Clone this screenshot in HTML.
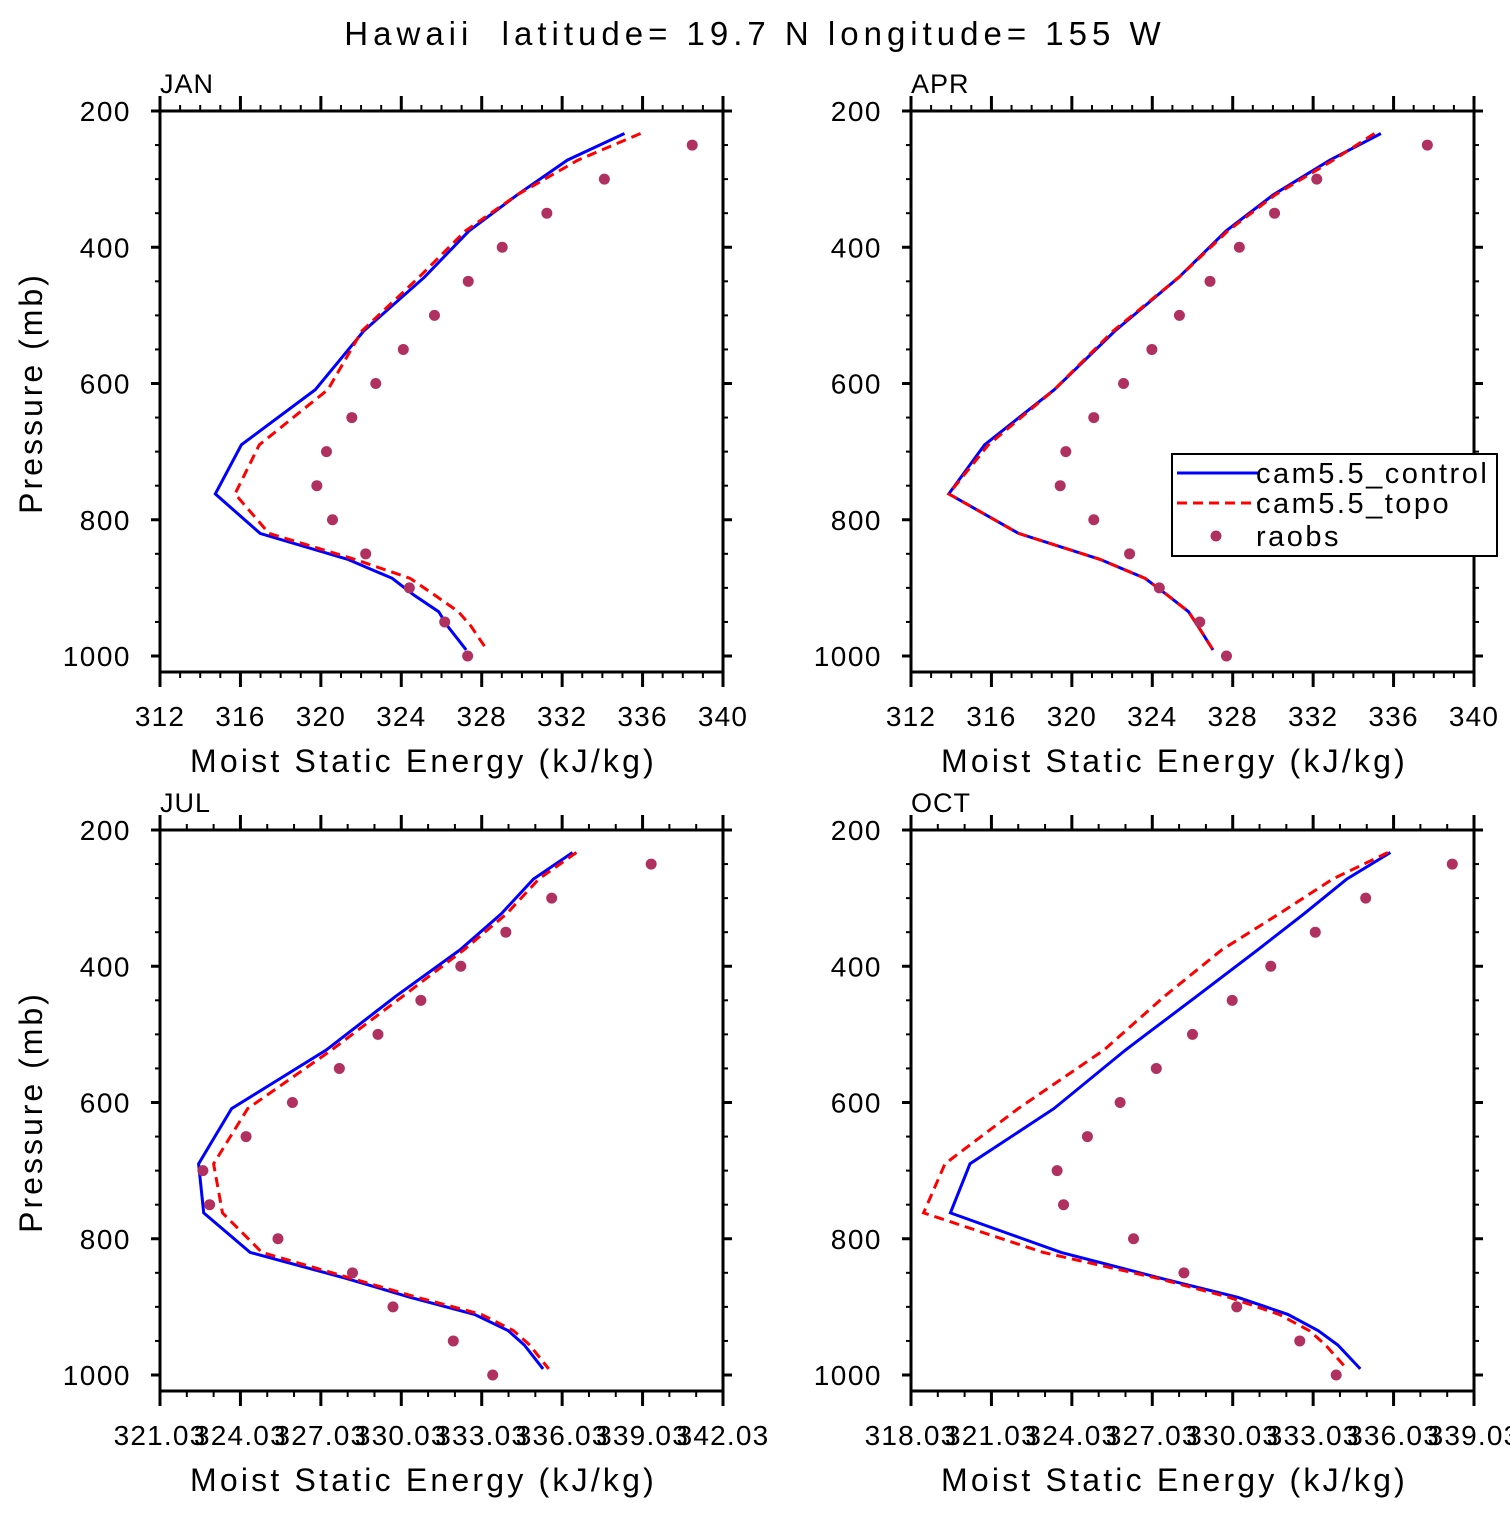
<!DOCTYPE html>
<html><head><meta charset="utf-8"><style>
body{margin:0;background:#fff}
svg text{font-family:"Liberation Sans",sans-serif;fill:#000}
</style></head><body>
<svg id="c" width="1510" height="1510" xmlns="http://www.w3.org/2000/svg">
<text x="755" y="45" font-size="33" text-anchor="middle" letter-spacing="5" xml:space="preserve">Hawaii  latitude= 19.7 N longitude= 155 W</text>
</svg>
<script>
const levels=[233,272,323,376,444,523,609,690,762,820,858,886,911,935,956,991];
const obsLevels=[250,300,350,400,450,500,550,600,650,700,750,800,850,900,950,1000];
const panelNames=["JAN","APR","JUL","OCT"];
const janControl=[335.10,332.26,329.77,327.37,325.15,322.13,319.73,316.05,314.75,316.98,321.33,323.55,324.65,325.86,326.30,327.23];
const janTopo=[335.90,332.79,329.77,327.19,324.88,322.04,320.35,316.94,315.73,317.42,321.68,324.44,325.68,326.84,327.46,328.26];
const janObs=[338.47,334.10,331.24,329.02,327.33,325.65,324.10,322.73,321.54,320.28,319.80,320.58,322.23,324.40,326.16,327.30];
const aprControl=[335.37,332.84,330.02,327.67,325.33,322.14,319.13,315.66,313.88,317.35,321.39,323.64,324.77,325.80,326.27,327.02];
const aprTopo=[335.05,333.00,330.12,327.76,325.33,322.05,319.13,315.85,313.88,317.35,321.39,323.64,324.77,325.80,326.27,327.02];
const aprObs=[337.68,332.18,330.08,328.33,326.87,325.35,323.98,322.57,321.09,319.70,319.42,321.09,322.87,324.35,326.36,327.69];
const julControl=[336.42,334.96,333.76,332.22,329.83,327.23,323.70,322.47,322.66,324.39,327.96,330.36,332.76,334.02,334.62,335.32];
const julTopo=[336.56,335.16,333.96,332.36,330.09,327.43,324.30,323.03,323.36,324.83,328.16,330.62,333.02,334.22,334.82,335.53];
const julObs=[339.35,335.64,333.93,332.25,330.76,329.16,327.72,325.97,324.24,322.63,322.88,325.43,328.21,329.72,331.97,333.44];
const octControl=[335.91,334.29,332.69,330.96,328.69,326.03,323.36,320.23,319.50,323.63,327.36,330.22,332.09,333.22,333.95,334.79];
const octTopo=[335.82,333.76,331.76,329.62,327.49,325.23,322.03,319.30,318.50,322.96,327.23,329.89,331.76,332.89,333.49,334.29];
const octObs=[338.22,334.99,333.11,331.45,330.01,328.53,327.18,325.83,324.61,323.48,323.72,326.33,328.21,330.18,332.53,333.89];
const xTicksA=[312,316,320,324,328,332,336,340];
const xTicksB=[321.03,324.03,327.03,330.03,333.03,336.03,339.03,342.03];
const xTicksC=[318.03,321.03,324.03,327.03,330.03,333.03,336.03,339.03];
const yTicks=[200,400,600,800,1000];

const NS="http://www.w3.org/2000/svg";
const svg=document.getElementById('c');
function mk(tag,attrs,parent){const e=document.createElementNS(NS,tag);for(const k in attrs)e.setAttribute(k,attrs[k]);(parent||svg).appendChild(e);return e;}

const panels=[
 {x0:160,y0:111,name:"JAN",xmin:312,xmax:340,ticks:xTicksA,minor:1,fmt:v=>v.toFixed(0),c:janControl,t:janTopo,o:janObs,ylab:true},
 {x0:911,y0:111,name:"APR",xmin:312,xmax:340,ticks:xTicksA,minor:1,fmt:v=>v.toFixed(0),c:aprControl,t:aprTopo,o:aprObs,ylab:false},
 {x0:160,y0:830,name:"JUL",xmin:321.03,xmax:342.03,ticks:xTicksB,minor:1,fmt:v=>v.toFixed(2),c:julControl,t:julTopo,o:julObs,ylab:true},
 {x0:911,y0:830,name:"OCT",xmin:318.03,xmax:339.03,ticks:xTicksC,minor:1,fmt:v=>v.toFixed(2),c:octControl,t:octTopo,o:octObs,ylab:false}
];
const W=563,PH=561,PSPAN=545;
panels.forEach((P,i)=>{
 const g=mk('g',{});
 
 
 const xs=v=>P.x0+(v-P.xmin)/(P.xmax-P.xmin)*W;
 const ys=p=>P.y0+(p-200)/800*PSPAN;
 const yb=P.y0+PH;
 for(let p=200;p<=1000;p+=50){
  const maj=p%200===0, y=ys(p), L=maj?9:5;
  mk('line',{x1:P.x0-L,y1:y,x2:P.x0,y2:y,stroke:'#000','stroke-width':maj?3:2},g);
  mk('line',{x1:P.x0+W,y1:y,x2:P.x0+W+L,y2:y,stroke:'#000','stroke-width':maj?3:2},g);
 }
 for(let v=P.xmin;v<=P.xmax+0.001;v+=P.minor){
  const maj=P.ticks.some(t=>Math.abs(t-v)<0.001), x=xs(v), L=maj?15:6;
  mk('line',{x1:x,y1:yb,x2:x,y2:yb+L,stroke:'#000','stroke-width':maj?3:2},g);
  mk('line',{x1:x,y1:P.y0,x2:x,y2:P.y0-L,stroke:'#000','stroke-width':maj?3:2},g);
 }
 const fr=mk('rect',{x:P.x0,y:P.y0,width:W,height:PH,fill:'none',stroke:'#000','stroke-width':3},g);
 
 
 yTicks.forEach(p=>{const t=mk('text',{x:P.x0-29,y:ys(p)+10,'font-size':28,'text-anchor':'end','letter-spacing':'1.5'},g);t.textContent=p;
  
  });
 P.ticks.forEach(v=>{const t=mk('text',{x:xs(v),y:yb+54,'font-size':28,'text-anchor':'middle','letter-spacing':'1.2'},g);t.textContent=P.fmt(v);
  
  });
 const xt=mk('text',{x:P.x0+W/2-18,y:yb+100,'font-size':32,'text-anchor':'middle','letter-spacing':'3.2'},g);xt.textContent="Moist Static Energy (kJ/kg)";
 
 
 const pn=mk('text',{x:P.x0,y:P.y0-18,'font-size':27,'letter-spacing':'1'},g);pn.textContent=P.name;
 
 
 if(P.ylab){const yt=mk('text',{x:0,y:0,'font-size':32,'text-anchor':'middle','letter-spacing':'3',transform:`translate(42,${P.y0+282}) rotate(-90)`},g);yt.textContent="Pressure (mb)";
  
  }
 const ptsC=levels.map((p,k)=>xs(P.c[k]).toFixed(1)+','+ys(p).toFixed(1)).join(' ');
 const ptsT=levels.map((p,k)=>xs(P.t[k]).toFixed(1)+','+ys(p).toFixed(1)).join(' ');
 const lc=mk('polyline',{points:ptsC,fill:'none',stroke:'#0000ff','stroke-width':3},g);
 
 
 const lt=mk('polyline',{points:ptsT,fill:'none',stroke:'#ff0000','stroke-width':3,'stroke-dasharray':'10,6'},g);
 
 
 obsLevels.forEach((p,k)=>{const d=mk('circle',{cx:xs(P.o[k]),cy:ys(p),r:5.5,fill:'#b03060'},g);
  
  });
});
const lg=mk('g',{});


mk('rect',{x:1172,y:454,width:325,height:102,fill:'#fff',stroke:'#000','stroke-width':2},lg);
mk('line',{x1:1177,y1:473,x2:1258,y2:473,stroke:'#0000ff','stroke-width':3},lg);
mk('line',{x1:1177,y1:503,x2:1258,y2:503,stroke:'#ff0000','stroke-width':3,'stroke-dasharray':'10,6'},lg);
mk('circle',{cx:1216,cy:536,r:5.5,fill:'#b03060'},lg);
[["cam5.5_control",483],["cam5.5_topo",513],["raobs",546]].forEach(([s,y])=>{const t=mk('text',{x:1256,y:y,'font-size':29,'letter-spacing':'2.5'},lg);t.textContent=s;
 
 });
</script>
</body></html>
